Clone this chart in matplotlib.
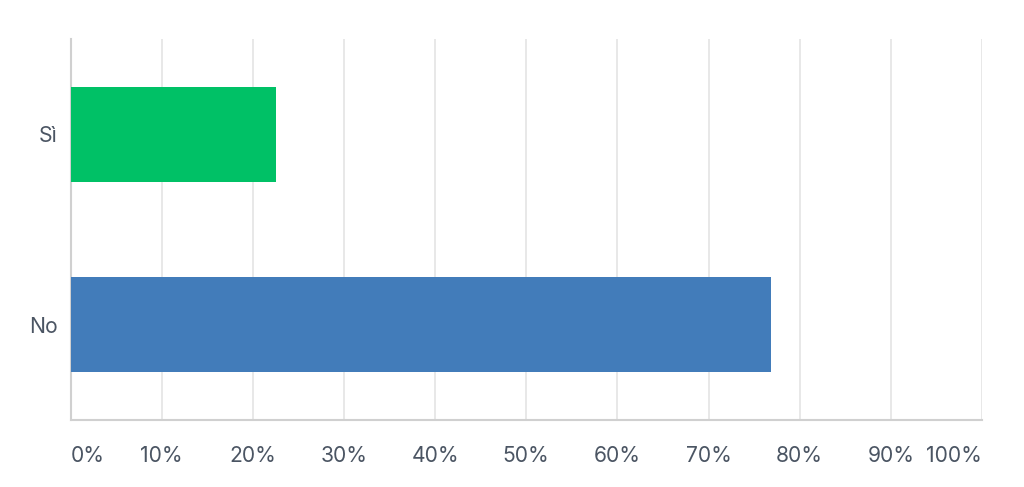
import matplotlib.pyplot as plt
import matplotlib.ticker as mtick

# dati
categorie = ["No", "Sì"]
percentuali = [76.9, 22.6]
colori = ["#427cba", "#00c166"]
tick_valori = [0, 10, 20, 30, 40, 50, 60, 70, 80, 90, 100]

plt.rcParams["font.family"] = ["Inter", "DejaVu Sans"]

fig = plt.figure(figsize=(10.24, 4.87), dpi=100)
ax = fig.add_axes([70.5 / 1024, 1 - 420 / 487, 911.5 / 1024, 381 / 487])

ax.barh(categorie, percentuali, height=0.5, color=colori, zorder=3)
ax.set_xlim(0, 100)
ax.set_ylim(-0.5, 1.5)

ax.set_xticks(tick_valori)
ax.xaxis.set_major_formatter(mtick.PercentFormatter(decimals=0))
ax.grid(axis="x", color="#e6e6e6", linewidth=1.3, zorder=0)
ax.tick_params(axis="both", length=0, labelsize=15.2, labelcolor="#4b5563")
ax.tick_params(axis="x", pad=19)
ax.tick_params(axis="y", pad=9)

# primo e ultimo tick allineati ai bordi
etichette = ax.get_xticklabels()
etichette[0].set_horizontalalignment("left")
etichette[-1].set_horizontalalignment("right")

for lato in ["top", "right"]:
    ax.spines[lato].set_visible(False)
for lato in ["left", "bottom"]:
    ax.spines[lato].set_color("#d0d0d0")
    ax.spines[lato].set_linewidth(1.5)

fig.savefig("out.png", dpi=100)
